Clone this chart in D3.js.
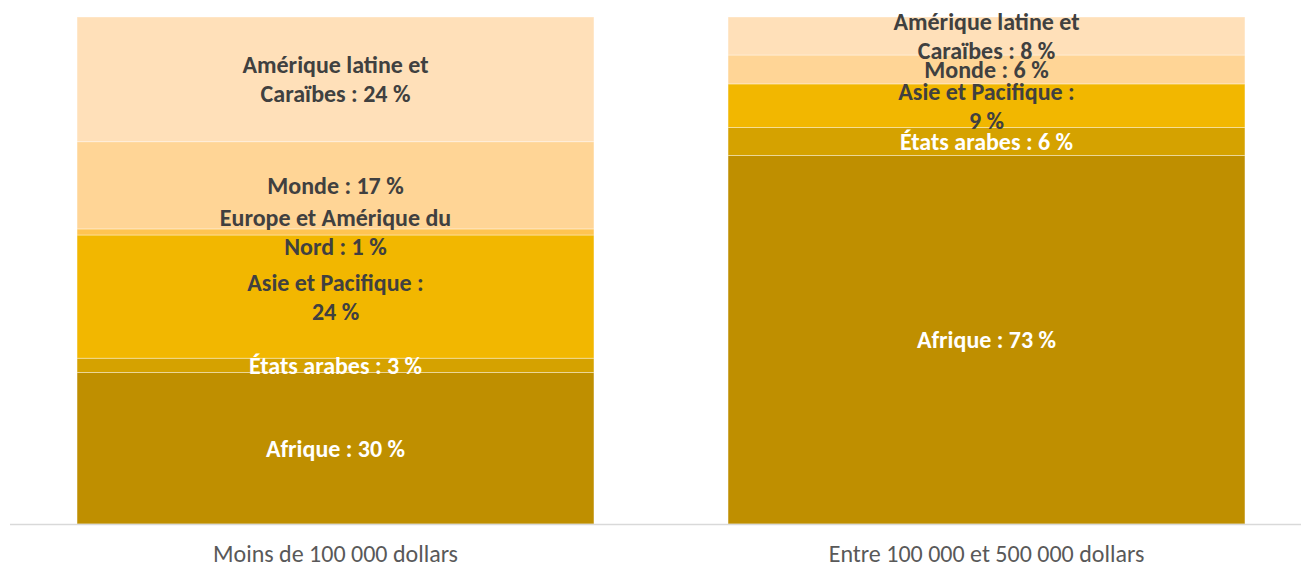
<!DOCTYPE html>
<html>
<head>
<meta charset="utf-8">
<script src="https://cdn.jsdelivr.net/npm/d3@7"></script>
<style>
  body { margin: 0; background: #fff; }
  svg { display: block; }
  .seg-label { font-family: Carlito, Lato, sans-serif; font-weight: bold; font-size: 24px; }
  .cat-label { font-family: Carlito, Lato, sans-serif; font-size: 24px; fill: #595959; }
</style>
</head>
<body>
<div id="chart"></div>
<script>
// Two stacked 100% bars, regions share per budget bracket

var categories = ["Moins de 100 000 dollars", "Entre 100 000 et 500 000 dollars"];
var regions = ["Afrique", "États arabes", "Asie et Pacifique",
               "Europe et Amérique du Nord", "Monde", "Amérique latine et Caraïbes"];

// bar heights and the rounded values printed in the labels
var shareLow = [29.9, 2.8, 24.3, 1.2, 17.2, 24.6];
var shareMid = [72.7, 5.5, 8.6, 0, 5.7, 7.5];
var shownLow = [30, 3, 24, 1, 17, 24];
var shownMid = [73, 6, 9, 0, 6, 8];

// where the label text wraps (first line), empty = one line
var firstLine = ["", "", "Asie et Pacifique :", "Europe et Amérique du", "", "Amérique latine et"];

var colors = ["#BF8F00", "#D5A200", "#F2B700", "#FFC451", "#FFD596", "#FFE0B9"];
var textColors = ["#ffffff", "#ffffff", "#404040", "#404040", "#404040", "#404040"];

var WIDTH = 1301, HEIGHT = 566;

var svg = d3.select("#chart").append("svg")
    .attr("width", WIDTH)
    .attr("height", HEIGHT);

var x = d3.scaleBand()
    .domain(categories)
    .range([10, 1312])
    .paddingInner(0.206)
    .paddingOuter(0.103);

var y = d3.scaleLinear()
    .domain([0, 100])
    .range([524, 17]);

var table = categories.map(function(c, i) {
  var row = {category: c};
  var vals = i === 0 ? shareLow : shareMid;
  var shown = i === 0 ? shownLow : shownMid;
  regions.forEach(function(r, j) { row[r] = vals[j]; row[r + "_shown"] = shown[j]; });
  return row;
});

var stacked = d3.stack().keys(regions)(table);

var layers = svg.selectAll("g.layer")
    .data(stacked)
    .enter().append("g")
    .attr("class", "layer")
    .attr("fill", function(d, i) { return colors[i]; });

layers.selectAll("rect")
    .data(function(d) { return d; })
    .enter().append("rect")
    .attr("x", function(d) { return x(d.data.category); })
    .attr("width", x.bandwidth())
    .attr("y", function(d) { return y(d[1]); })
    .attr("height", function(d) { return y(d[0]) - y(d[1]); })
    .attr("stroke", "rgba(255,255,255,0.45)")
    .attr("stroke-width", 0.8);

// axis line
svg.append("line")
    .attr("x1", 10).attr("x2", WIDTH)
    .attr("y1", 524.5).attr("y2", 524.5)
    .attr("stroke", "#d9d9d9")
    .attr("stroke-width", 1.5);

// segment labels
var lineGap = 29;
stacked.forEach(function(layer, i) {
  layer.forEach(function(d) {
    if (d[1] - d[0] <= 0) return;
    var name = regions[i];
    var full = name + " : " + d.data[name + "_shown"] + " %";
    var lines = firstLine[i] ? [firstLine[i], full.slice(firstLine[i].length).trim()] : [full];
    var cy = y((d[0] + d[1]) / 2);
    var t = svg.append("text")
        .attr("class", "seg-label")
        .attr("text-anchor", "middle")
        .attr("fill", textColors[i])
        .attr("x", x(d.data.category) + x.bandwidth() / 2)
        .attr("y", cy - (lines.length - 1) * lineGap / 2);
    lines.forEach(function(l, k) {
      t.append("tspan")
        .attr("x", x(d.data.category) + x.bandwidth() / 2)
        .attr("dy", k === 0 ? "0.35em" : lineGap)
        .text(l);
    });
  });
});

// category labels
svg.selectAll("text.cat-label")
    .data(categories)
    .enter().append("text")
    .attr("class", "cat-label")
    .attr("text-anchor", "middle")
    .attr("x", function(d) { return x(d) + x.bandwidth() / 2; })
    .attr("y", 554)
    .attr("dy", "0.35em")
    .text(function(d) { return d; });
</script>
</body>
</html>
